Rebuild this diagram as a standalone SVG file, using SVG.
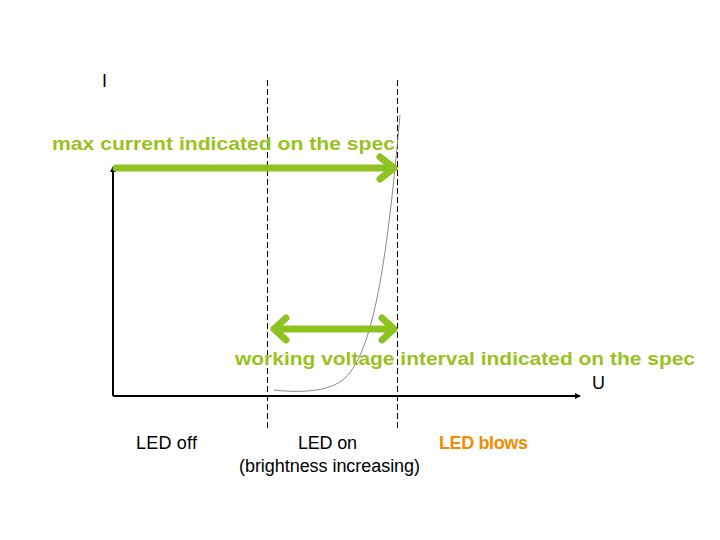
<svg xmlns="http://www.w3.org/2000/svg" width="720" height="540" viewBox="0 0 720 540">
<style>
.t{font-family:"Liberation Sans",Arial,sans-serif;font-size:18px;fill:#000}
.g{font-family:"Liberation Sans",Arial,sans-serif;font-size:19px;font-weight:bold;fill:#99c21e}
.d{stroke:#000;stroke-width:1;stroke-dasharray:6,3}
.ar{stroke:#8dc21f;stroke-width:7;fill:none;stroke-linecap:round;stroke-linejoin:round}
</style>
<defs>
<marker id="ax" markerWidth="6" markerHeight="6" refX="5" refY="3" orient="auto" markerUnits="userSpaceOnUse"><path d="M0,0 L6,3 L0,6 z" fill="#000"/></marker>
</defs>
<rect width="720" height="540" fill="#fff"/>
<g id="connectors">
<line x1="113" y1="396" x2="113" y2="167" stroke="#000" stroke-width="2" marker-end="url(#ax)"/>
<line x1="113" y1="396" x2="580" y2="396" stroke="#000" stroke-width="2" marker-end="url(#ax)"/>
<line class="d" x1="267.5" y1="80" x2="267.5" y2="430"/>
<line class="d" x1="397.5" y1="80" x2="397.5" y2="430"/>
<path d="M274,390 C300,393 330,392 345,378 C375,350 388,250 400,115" fill="none" stroke="#888" stroke-width="1"/>
<path class="ar" d="M116,168 L394,168 M380,157 L394,168 L380,179"/>
<path class="ar" d="M274,329 L394,329 M286,318 L274,329 L286,340 M382,318 L394,329 L382,340"/>
</g>
<g id="labels">
<text class="t" x="102" y="87">I</text>
<text class="t" x="592" y="389">U</text>
<text class="g" x="52" y="150" textLength="343" lengthAdjust="spacingAndGlyphs">max current indicated on the spec</text>
<text class="g" x="235" y="365" textLength="460" lengthAdjust="spacingAndGlyphs">working voltage interval indicated on the spec</text>
<text class="t" x="136" y="449" textLength="61">LED off</text>
<text class="t" x="298" y="449" textLength="59">LED on</text>
<text class="t" x="239" y="472" textLength="181">(brightness increasing)</text>
<text class="t" x="439" y="449" textLength="89" style="font-weight:bold;fill:#f08c00">LED blows</text>
</g>
</svg>
